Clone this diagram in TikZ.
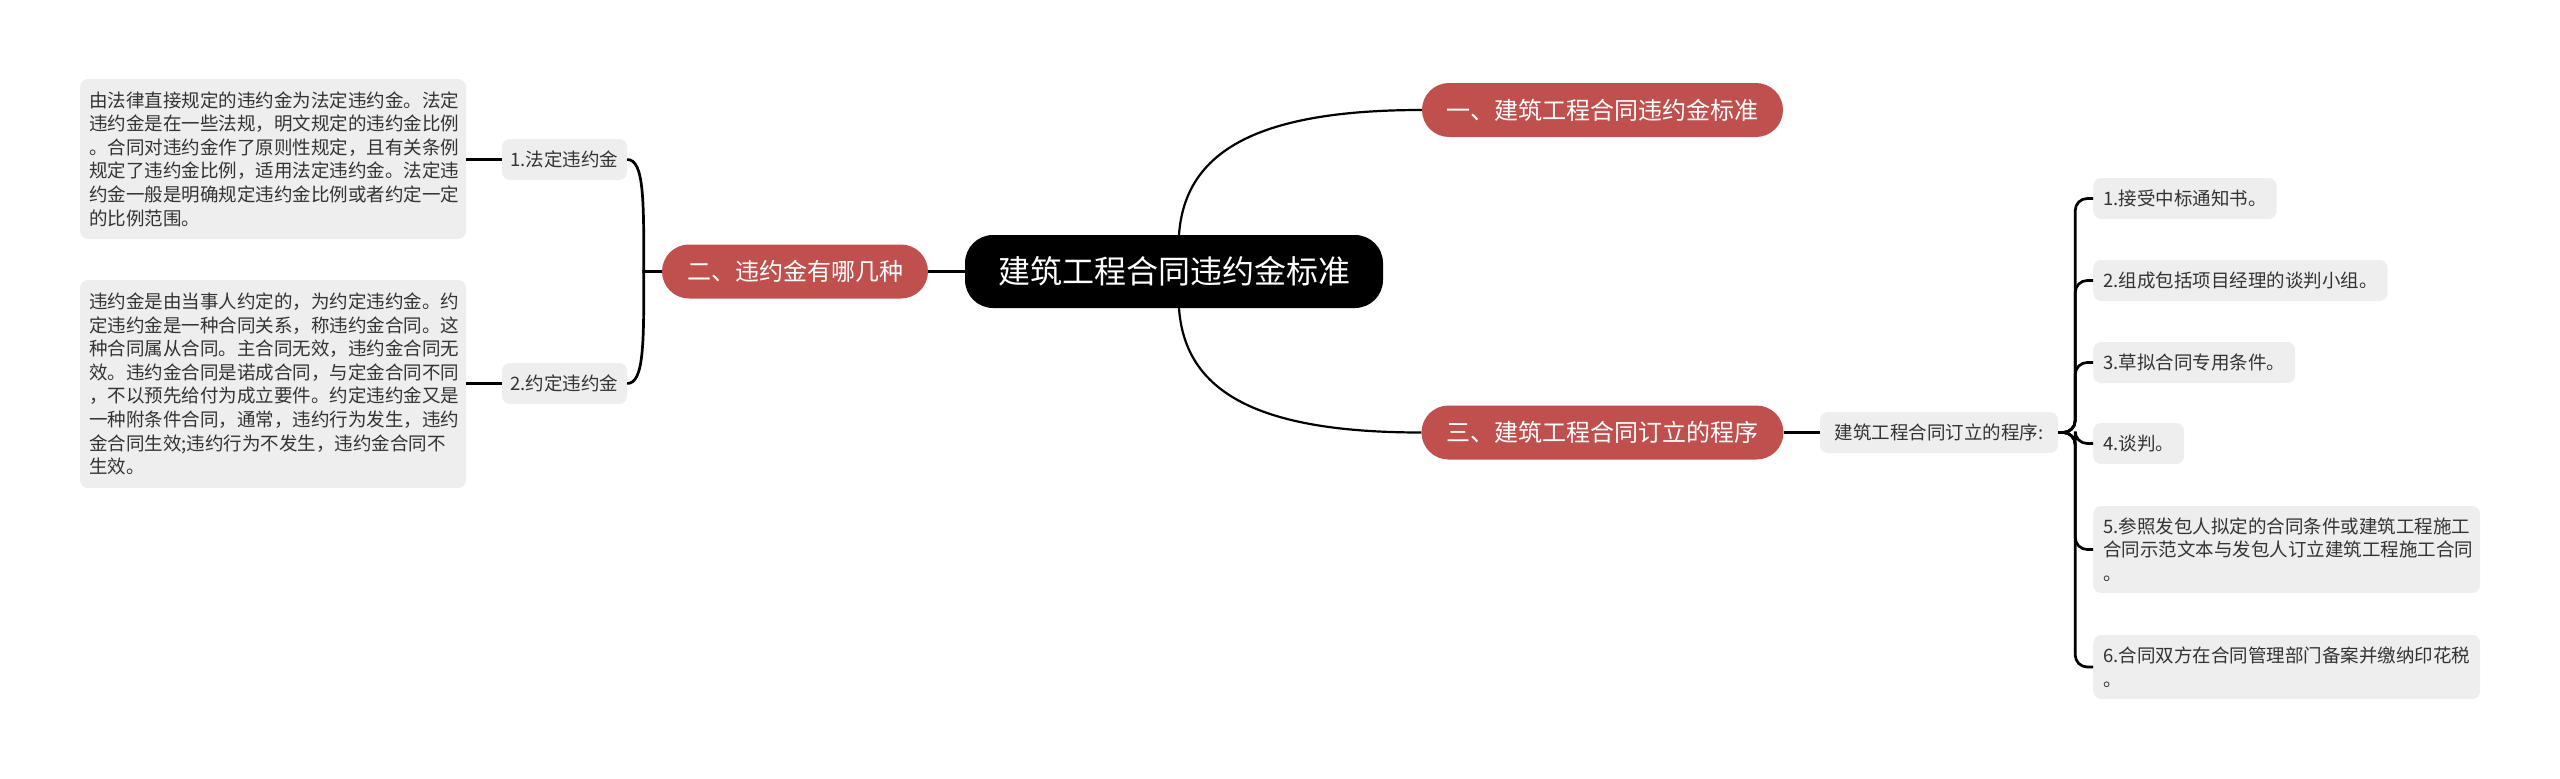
\documentclass[tikz,border=0pt]{standalone}
\usepackage{fontspec}
\setmainfont{Noto Sans CJK SC}
\definecolor{redn}{HTML}{C0504D}
\definecolor{grayn}{HTML}{EEEEEE}
\definecolor{txt}{HTML}{333333}
\tikzset{
  root/.style={fill=black, text=white, rounded corners=28pt, minimum width=418pt, minimum height=73pt, inner sep=0pt, font=\fontsize{32}{38}\selectfont},
  topic/.style={fill=redn, text=white, rounded corners=27pt, minimum height=54pt, inner sep=0pt, font=\fontsize{24}{28}\selectfont},
  leaf/.style={fill=grayn, text=txt, rounded corners=8pt, inner xsep=10pt, inner ysep=0pt, align=left, font=\fontsize{18.5}{23.6}\selectfont},
  conn/.style={draw=black, line width=2.2pt},
  br/.style={draw=black, line width=2.7pt},
}
\begin{document}
\begin{tikzpicture}[x=1pt,y=-1pt]
\useasboundingbox (0,0) rectangle (2560,779);
% central and main topics
\node[root] (c) at (1174,271.5) {建筑工程合同违约金标准};
\node[topic, minimum width=361pt] (t1) at (1602.5,110) {一、建筑工程合同违约金标准};
\node[topic, minimum width=266pt] (t2) at (795,271.5) {二、违约金有哪几种};
\node[topic, minimum width=362pt] (t3) at (1602.5,432.5) {三、建筑工程合同订立的程序};
% left side
\node[leaf, minimum width=125pt, minimum height=41pt, align=center, inner xsep=0pt] (l1) at (564.5,159.5) {1.法定违约金};
\node[leaf, minimum width=125pt, minimum height=41pt, align=center, inner xsep=0pt] (l2) at (564.5,383.5) {2.约定违约金};
\node[leaf, text width=368pt, minimum height=160pt, inner xsep=9pt] (d1) at (273,159) {由法律直接规定的违约金为法定违约金。法定\\违约金是在一些法规，明文规定的违约金比例\\。合同对违约金作了原则性规定，且有关条例\\规定了违约金比例，适用法定违约金。法定违\\约金一般是明确规定违约金比例或者约定一定\\的比例范围。};
\node[leaf, text width=368pt, minimum height=208pt, inner xsep=9pt] (d2) at (273,384) {违约金是由当事人约定的，为约定违约金。约\\定违约金是一种合同关系，称违约金合同。这\\种合同属从合同。主合同无效，违约金合同无\\效。违约金合同是诺成合同，与定金合同不同\\，不以预先给付为成立要件。约定违约金又是\\一种附条件合同，通常，违约行为发生，违约\\金合同生效;违约行为不发生，违约金合同不\\生效。};
% right side
\node[leaf, minimum width=238pt, minimum height=41pt, align=center, inner xsep=0pt] (p) at (1939,432.5) {建筑工程合同订立的程序:};
\node[leaf, anchor=west, minimum height=41pt] (i1) at (2093,198.5) {1.接受中标通知书。};
\node[leaf, anchor=west, minimum height=41pt] (i2) at (2093,280.5) {2.组成包括项目经理的谈判小组。};
\node[leaf, anchor=west, minimum height=41pt] (i3) at (2093,362.5) {3.草拟合同专用条件。};
\node[leaf, anchor=west, minimum height=41pt] (i4) at (2093,443.5) {4.谈判。};
\node[leaf, anchor=west, text width=367pt, minimum height=87pt] (i5) at (2093,549.5) {5.参照发包人拟定的合同条件或建筑工程施工\\合同示范文本与发包人订立建筑工程施工合同\\。};
\node[leaf, anchor=west, text width=367pt, minimum height=64pt] (i6) at (2093,667) {6.合同双方在合同管理部门备案并缴纳印花税\\。};
% connectors
\draw[conn] ([xshift=5pt]c.north) .. controls +(6,-85) and +(-162,0) .. (t1.west);
\draw[conn] ([xshift=5pt]c.south) .. controls +(6,85) and +(-162,0) .. (t3.west);
\draw[br] (t2.east) -- (c.west);
\draw[br] (t3.east) -- (p.west);
\draw[br] (d1.east |- l1.west) -- (l1.west);
\draw[br] (d2.east |- l2.west) -- (l2.west);
\draw[br] (t2.west) -- ++(-18,0) .. controls +(0,-71) and +(17,0) .. (l1.east);
\draw[br] (t2.west) -- ++(-18,0) .. controls +(0,71) and +(17,0) .. (l2.east);
\foreach \i in {i1,i2,i3,i4,i5,i6}
  \draw[br, rounded corners=12pt] (p.east) -- ++(17,0) |- (\i.west);
\end{tikzpicture}
\end{document}
